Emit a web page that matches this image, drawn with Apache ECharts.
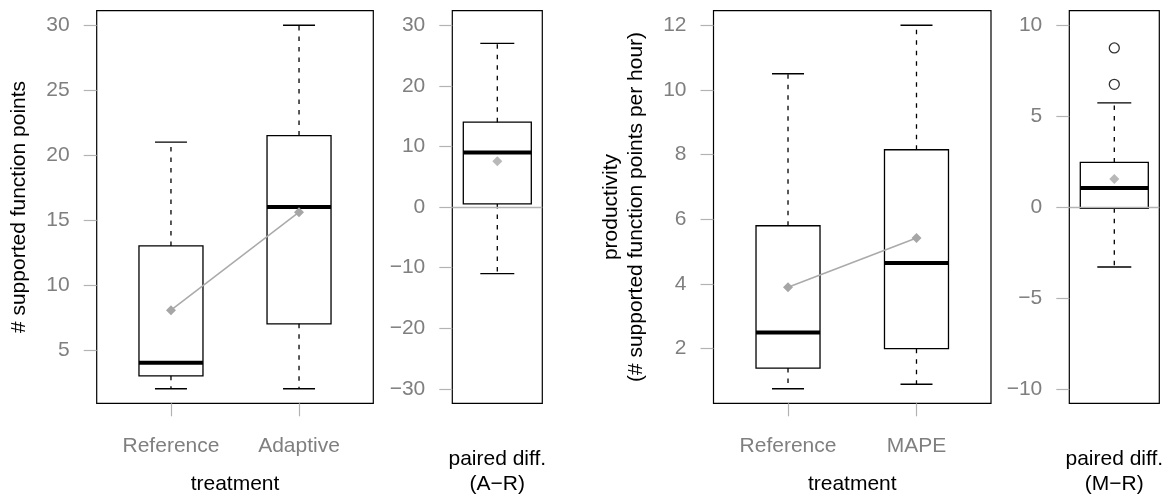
<!DOCTYPE html>
<html>
<head>
<meta charset="utf-8">
<script src="https://cdn.jsdelivr.net/npm/echarts@6/dist/echarts.min.js"></script>
<style>
html,body{margin:0;padding:0;background:#fff;}
#chart{width:1171px;height:497px;}
</style>
</head>
<body>
<div id="chart"></div>
<script>
// ---------- data ----------
const fpCategories = ['Reference', 'Adaptive'];
// [lowerWhisker, Q1, median, Q3, upperWhisker]
const fpStats = [[2, 3, 4, 13, 21], [2, 7, 16, 21.5, 30]];
const fpMeans = [8.05, 15.6];
const fpDiffStats = [[-11, 0.5, 9, 14, 27]];
const fpDiffMean = [7.55];
const fpTicks = [5, 10, 15, 20, 25, 30];
const fpDiffTicks = [-30, -20, -10, 0, 10, 20, 30];
const fpDiffLimit = 30;

const prodCategories = ['Reference', 'MAPE'];
const prodStats = [[0.76, 1.4, 2.5, 5.8, 10.5], [0.9, 2.0, 4.65, 8.15, 12]];
const prodMeans = [3.9, 5.42];
const prodDiffStats = [[-3.3, -0.07, 1.05, 2.45, 5.73]];
const prodDiffMean = [1.54];
const prodDiffOutliers = [6.75, 8.75];
const prodTicks = [2, 4, 6, 8, 10, 12];
const prodDiffTicks = [-10, -5, 0, 5, 10];
const prodDiffLimit = 10;

// ---------- helpers ----------
const FONT = '"Liberation Sans", Arial, Helvetica, sans-serif';
const LABEL_GRAY = '#7f7f7f';
const TICK_GRAY = '#b3b3b3';
function ext(lo, hi) { const d = (hi - lo) * 0.04; return [lo - d, hi + d]; }
function rangeOf(stats) {
  let lo = Infinity, hi = -Infinity;
  stats.forEach(s => { lo = Math.min(lo, s[0]); hi = Math.max(hi, s[4]); });
  return ext(lo, hi);
}
const fpRange = rangeOf(fpStats);
const prodRange = rangeOf(prodStats);
const fpDiffRange = ext(-fpDiffLimit, fpDiffLimit);
const prodDiffRange = ext(-prodDiffLimit, prodDiffLimit);

function boxRender(halfW, capHalf) {
  return function (params, api) {
    const x = api.value(0);
    const lo = api.coord([x, api.value(1)]);
    const q1 = api.coord([x, api.value(2)]);
    const md = api.coord([x, api.value(3)]);
    const q3 = api.coord([x, api.value(4)]);
    const hi = api.coord([x, api.value(5)]);
    const cx = lo[0];
    const lineStyle = { stroke: '#000', lineWidth: 1.3, fill: null };
    const dashStyle = { stroke: '#000', lineWidth: 1.3, lineDash: [4.5, 6] };
    return {
      type: 'group',
      children: [
        { type: 'line', shape: { x1: cx, y1: q3[1], x2: cx, y2: hi[1] }, style: dashStyle },
        { type: 'line', shape: { x1: cx, y1: q1[1], x2: cx, y2: lo[1] }, style: dashStyle },
        { type: 'line', shape: { x1: cx - capHalf, y1: hi[1], x2: cx + capHalf, y2: hi[1] }, style: lineStyle },
        { type: 'line', shape: { x1: cx - capHalf, y1: lo[1], x2: cx + capHalf, y2: lo[1] }, style: lineStyle },
        { type: 'rect', shape: { x: cx - halfW, y: q3[1], width: halfW * 2, height: q1[1] - q3[1] },
          style: { stroke: '#000', lineWidth: 1.3, fill: 'rgba(255,255,255,0)' } },
        { type: 'line', shape: { x1: cx - halfW, y1: md[1], x2: cx + halfW, y2: md[1] },
          style: { stroke: '#000', lineWidth: 4 } }
      ]
    };
  };
}

function gridDef(left, right) {
  return { left: left, width: right - left, top: 10.7, height: 392.6, show: true,
           borderColor: '#000', borderWidth: 1.2, backgroundColor: 'transparent',
           containLabel: false, outerBoundsMode: 'none' };
}
function yAxisDef(gi, range, ticks, name, nameGap) {
  return {
    type: 'value', gridIndex: gi, min: range[0], max: range[1],
    axisLine: { show: false },
    splitLine: { show: false },
    axisTick: { show: true, length: 13, customValues: ticks, lineStyle: { color: TICK_GRAY, width: 1.2 } },
    axisLabel: { show: true, customValues: ticks, margin: 27, color: LABEL_GRAY, fontSize: 21, fontFamily: FONT,
                 formatter: v => (v < 0 ? '\u2212' + Math.abs(v) : String(v)) },
    name: name, nameLocation: 'middle', nameGap: nameGap,
    nameTextStyle: { color: '#000', fontSize: 21, fontFamily: FONT, lineHeight: 25 }
  };
}
function xAxisCat(gi, cats, name) {
  const vals = cats.map((c, i) => i + 1);
  return {
    type: 'value', gridIndex: gi, min: 0.42, max: 2.58,
    axisLine: { show: false }, splitLine: { show: false },
    axisTick: { show: true, length: 13, customValues: vals, lineStyle: { color: TICK_GRAY, width: 1.2 } },
    axisLabel: { show: true, customValues: vals, margin: 32, color: LABEL_GRAY, fontSize: 21, fontFamily: FONT,
                 formatter: v => cats[Math.round(v) - 1] || '' },
    name: name, nameLocation: 'middle', nameGap: 70,
    nameTextStyle: { color: '#000', fontSize: 21, fontFamily: FONT }
  };
}
function xAxisDiff(gi, name) {
  return {
    type: 'value', gridIndex: gi, min: 0, max: 2,
    axisLine: { show: false }, splitLine: { show: false },
    axisTick: { show: false }, axisLabel: { show: false },
    name: name, nameLocation: 'middle', nameGap: 43,
    nameTextStyle: { color: '#000', fontSize: 21, fontFamily: FONT, lineHeight: 25 }
  };
}
function boxData(stats, startX) { return stats.map((s, i) => [startX + i].concat(s)); }
function meanData(means, startX) { return means.map((m, i) => [startX + i, m]); }
const zeroLine = {
  silent: true, symbol: ['none', 'none'], label: { show: false },
  lineStyle: { color: TICK_GRAY, type: 'solid', width: 1.3 },
  data: [{ yAxis: 0 }], animation: false
};
const meanStyle = { symbol: 'diamond', symbolSize: 10, itemStyle: { color: '#a6a6a6' } };

const chart = echarts.init(document.getElementById('chart'), null, { renderer: 'canvas' });
chart.setOption({
  animation: false,
  backgroundColor: '#fff',
  textStyle: { fontFamily: FONT },
  grid: [gridDef(96.7, 373.3), gridDef(452.3, 542.3), gridDef(713.5, 991), gridDef(1069.3, 1159.3)],
  xAxis: [
    xAxisCat(0, fpCategories, 'treatment'),
    xAxisDiff(1, 'paired diff.\n(A\u2212R)'),
    xAxisCat(2, prodCategories, 'treatment'),
    xAxisDiff(3, 'paired diff.\n(M\u2212R)')
  ],
  yAxis: [
    yAxisDef(0, fpRange, fpTicks, '# supported function points', 65),
    yAxisDef(1, fpDiffRange, fpDiffTicks, '', 0),
    yAxisDef(2, prodRange, prodTicks, 'productivity\n(# supported function points per hour)', 65),
    yAxisDef(3, prodDiffRange, prodDiffTicks, '', 0)
  ],
  series: [
    { type: 'custom', xAxisIndex: 0, yAxisIndex: 0, renderItem: boxRender(32, 16), data: boxData(fpStats, 1), z: 3 },
    Object.assign({ type: 'line', xAxisIndex: 0, yAxisIndex: 0, data: meanData(fpMeans, 1),
      lineStyle: { color: '#aaaaaa', width: 1.5 }, z: 4 }, meanStyle),
    { type: 'custom', xAxisIndex: 1, yAxisIndex: 1, renderItem: boxRender(34, 17), data: boxData(fpDiffStats, 1), z: 3,
      markLine: zeroLine },
    Object.assign({ type: 'scatter', xAxisIndex: 1, yAxisIndex: 1, data: meanData(fpDiffMean, 1), z: 4 }, meanStyle),
    { type: 'custom', xAxisIndex: 2, yAxisIndex: 2, renderItem: boxRender(32, 16), data: boxData(prodStats, 1), z: 3 },
    Object.assign({ type: 'line', xAxisIndex: 2, yAxisIndex: 2, data: meanData(prodMeans, 1),
      lineStyle: { color: '#aaaaaa', width: 1.5 }, z: 4 }, meanStyle),
    { type: 'custom', xAxisIndex: 3, yAxisIndex: 3, renderItem: boxRender(34, 17), data: boxData(prodDiffStats, 1), z: 3,
      markLine: zeroLine },
    Object.assign({ type: 'scatter', xAxisIndex: 3, yAxisIndex: 3, data: meanData(prodDiffMean, 1), z: 4 }, meanStyle),
    { type: 'scatter', xAxisIndex: 3, yAxisIndex: 3, data: prodDiffOutliers.map(v => [1, v]),
      symbol: 'circle', symbolSize: 10, itemStyle: { color: '#fff', borderColor: '#000', borderWidth: 1.3 }, z: 4 }
  ]
});
</script>
</body>
</html>
